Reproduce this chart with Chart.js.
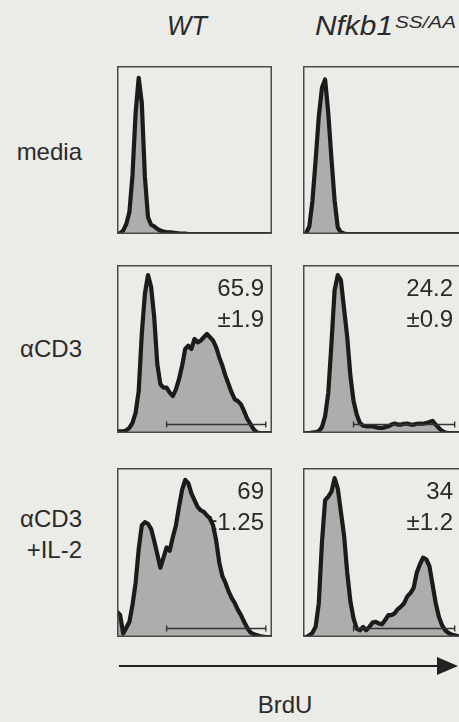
<!DOCTYPE html>
<html>
<head>
<meta charset="utf-8">
<title>BrdU incorporation</title>
<script src="https://cdn.jsdelivr.net/npm/chart.js@4.4.1/dist/chart.umd.min.js"></script>
<style>
  html, body { margin: 0; padding: 0; }
  body {
    width: 459px;
    height: 722px;
    overflow: hidden;
    position: relative;
    background: #ebebe7;
    font-family: "Liberation Sans", Arial, Helvetica, sans-serif;
  }
  .panel { position: absolute; }
  .panel canvas { display: block; }
  svg.labels { position: absolute; left: 0; top: 0; }
</style>
</head>
<body>
<svg class="labels" width="459" height="722"></svg>
<script>
'use strict';

// BrdU channel (binned, arbitrary units)
var bins = [0, 2, 4, 6, 8, 10, 12, 14, 16, 18, 20, 22, 24, 26, 28, 30, 32, 34, 36, 38,
  40, 42, 44, 46, 48, 50, 52, 54, 56, 58, 60, 62, 64, 66, 68, 70, 72, 74, 76, 78,
  80, 82, 84, 86, 88, 90, 92, 94, 96, 98, 100];

// cell counts per bin, % of panel max
var wtMedia = [0, 0.5, 2, 6, 13, 35, 72, 93, 78, 34, 10, 5.5, 4.5, 3, 2,
  1.5, 1.2, 1, 0.8, 0.6, 0.4, 0.3, 0.2, 0, 0, 0, 0, 0, 0, 0,
  0, 0, 0, 0, 0, 0, 0, 0, 0, 0, 0, 0, 0, 0, 0, 0, 0, 0, 0, 0, 0];
var ssaaMedia = [0, 0.5, 4.5, 20, 44, 70, 87, 92, 72, 45, 20, 4, 1, 0.3, 0,
  0, 0, 0, 0, 0, 0, 0, 0, 0, 0, 0, 0, 0, 0, 0,
  0, 0, 0, 0, 0, 0, 0, 0, 0, 0, 0, 0, 0, 0, 0, 0, 0, 0, 0, 0, 0];
var wtCD3 = [1, 1, 1, 1.5, 3, 6, 12, 25, 59, 83, 94, 87, 69, 41, 29,
  27, 27, 24, 22, 26, 32, 40, 50, 52, 50, 56, 54, 55, 57, 59,
  57, 55, 51, 45, 40, 34, 29, 24, 20, 19, 17, 13, 8.5, 5.5, 2.5,
  0.5, 0, 0, 0, 0, 0];
var ssaaCD3 = [0, 0, 0, 0.3, 0.6, 1, 3.5, 10, 24, 53, 85, 94, 91, 74, 57,
  34, 19, 11, 6, 4.3, 4, 4, 4, 3.5, 3, 3, 3.5, 4, 5, 5.6,
  5, 5, 5.5, 5.6, 5, 5, 5.5, 5.6, 5.5, 6, 6.5, 7.2, 5, 3, 1.2,
  0.3, 0, 0, 0, 0, 0];
var wtCD3IL2 = [15, 13, 2, 5.5, 9, 19, 32, 52, 66, 68, 67, 64, 57, 49, 41,
  47, 53, 51, 59, 66, 77, 87, 93, 91, 85, 81, 77, 75, 74, 72,
  70, 66, 57, 44, 36, 32, 27, 23, 20, 16, 13, 9, 5.5, 2.8, 1.7,
  1.2, 0.6, 0.3, 0, 0, 0];
var ssaaCD3IL2 = [0, 0, 1, 2.5, 6, 20, 56, 81, 83, 86, 94, 88, 74, 60, 38,
  21, 11, 5, 4, 6, 4, 6, 8.5, 9, 8, 7.5, 10, 13, 13, 14,
  16.5, 18, 20, 24, 26, 29, 38, 43, 47, 46, 42, 31, 20, 12, 7,
  4, 2.5, 1.5, 1, 0.5, 0];

var genotypes = ['WT', 'Nfkb1'];
var genotypeSup = ['', 'SS/AA'];
var conditions = [['media'], ['\u03b1CD3'], ['\u03b1CD3', '+IL-2']];

// % BrdU+ cells (mean, sd) inside the gate, row by row
var percentBrdU = [null, null, 65.9, 24.2, 69, 34];
var percentSd = [null, null, 1.9, 0.9, 1.25, 1.2];
var gateRange = [32, 96];
var gateLevel = 5.5;

var panelSeries = [wtMedia, ssaaMedia, wtCD3, ssaaCD3, wtCD3IL2, ssaaCD3IL2];

// layout
var colLeft = [117, 303];
var colWidth = [155, 158];
var rowTop = [66, 265, 468];
var rowHeight = [168, 168, 169];
var ink = '#2a2a2a';
var font = '"Liberation Sans", Arial, Helvetica, sans-serif';

var panelNote = {
  id: 'panelNote',
  // numbers go under the histogram so the curve can run over them
  beforeDatasetsDraw: function(chart, args, opts) {
    if (opts.value == null) return;
    var ctx = chart.ctx;
    var a = chart.chartArea;
    ctx.save();
    ctx.font = '24px ' + font;
    ctx.fillStyle = ink;
    ctx.textAlign = 'right';
    ctx.textBaseline = 'alphabetic';
    ctx.fillText(String(opts.value), a.right - 8, a.top + 31);
    ctx.fillText('\u00b1' + opts.sd, a.right - 8, a.top + 62);
    ctx.restore();
  },
  afterDatasetsDraw: function(chart, args, opts) {
    var ctx = chart.ctx;
    var a = chart.chartArea;
    ctx.save();
    if (opts.value != null) {
      var x0 = chart.scales.x.getPixelForValue(gateRange[0]);
      var x1 = chart.scales.x.getPixelForValue(gateRange[1]);
      var y = Math.round(chart.scales.y.getPixelForValue(gateLevel)) + 0.5;
      ctx.strokeStyle = '#333';
      ctx.lineWidth = 1.4;
      ctx.beginPath();
      ctx.moveTo(x0, y);
      ctx.lineTo(x1, y);
      ctx.moveTo(x0, y - 3);
      ctx.lineTo(x0, y + 3);
      ctx.moveTo(x1, y - 3);
      ctx.lineTo(x1, y + 3);
      ctx.stroke();
    }
    ctx.strokeStyle = '#4a4a4a';
    ctx.lineWidth = 1.5;
    ctx.strokeRect(a.left + 0.75, a.top + 0.75, a.right - a.left - 1.5, a.bottom - a.top - 1.5);
    ctx.restore();
  }
};

function makePanel(row, col) {
  var idx = row * 2 + col;
  var series = panelSeries[idx];
  var holder = document.createElement('div');
  holder.className = 'panel';
  holder.style.left = colLeft[col] + 'px';
  holder.style.top = rowTop[row] + 'px';
  var can = document.createElement('canvas');
  can.width = colWidth[col];
  can.height = rowHeight[row];
  holder.appendChild(can);
  document.body.appendChild(holder);

  return new Chart(can, {
    type: 'line',
    data: {
      datasets: [{
        data: bins.map(function(b, i) { return { x: b, y: series[i] }; }),
        fill: 'start',
        backgroundColor: '#adadab',
        borderColor: '#1b1b1b',
        borderWidth: 4.2,
        borderJoinStyle: 'round',
        borderCapStyle: 'round',
        pointRadius: 0,
        tension: 0
      }]
    },
    options: {
      responsive: false,
      animation: false,
      events: [],
      layout: { padding: 0 },
      plugins: {
        legend: { display: false },
        tooltip: { enabled: false },
        panelNote: { value: percentBrdU[idx], sd: percentSd[idx] }
      },
      scales: {
        x: { type: 'linear', display: false, min: 0, max: 100 },
        y: { display: false, min: 0, max: 100 }
      }
    },
    plugins: [panelNote]
  });
}

// titles, row labels and the BrdU axis arrow
var svgNS = 'http://www.w3.org/2000/svg';
var overlay = document.querySelector('svg.labels');

function addText(str, x, y, size, anchor, italic, fitWidth) {
  var t = document.createElementNS(svgNS, 'text');
  t.setAttribute('x', x);
  t.setAttribute('y', y);
  t.setAttribute('font-size', size);
  t.setAttribute('font-family', font);
  t.setAttribute('fill', ink);
  t.setAttribute('text-anchor', anchor);
  if (italic) t.setAttribute('font-style', 'italic');
  if (fitWidth) {
    t.setAttribute('textLength', fitWidth);
    t.setAttribute('lengthAdjust', 'spacingAndGlyphs');
  }
  t.textContent = str;
  overlay.appendChild(t);
  return t;
}

addText(genotypes[0], 167, 35, 27, 'start', true, 40);
addText(genotypes[1], 315, 35, 27, 'start', true, 78);
addText(genotypeSup[1], 395, 28, 16.5, 'start', true, 61);

var labelBaselines = [[160], [357], [527, 558]];
conditions.forEach(function(lines, r) {
  lines.forEach(function(line, k) {
    addText(line, 82, labelBaselines[r][k], 24, 'end', false);
  });
});

var axisLine = document.createElementNS(svgNS, 'line');
axisLine.setAttribute('x1', 119);
axisLine.setAttribute('x2', 440);
axisLine.setAttribute('y1', 666);
axisLine.setAttribute('y2', 666);
axisLine.setAttribute('stroke', '#222');
axisLine.setAttribute('stroke-width', 2);
overlay.appendChild(axisLine);
var head = document.createElementNS(svgNS, 'polygon');
head.setAttribute('points', '437,657 458,666 437,675');
head.setAttribute('fill', '#222');
overlay.appendChild(head);
addText('BrdU', 285, 713, 24, 'middle', false);

for (var r = 0; r < 3; r++) {
  for (var c = 0; c < 2; c++) {
    makePanel(r, c);
  }
}
</script>
</body>
</html>
